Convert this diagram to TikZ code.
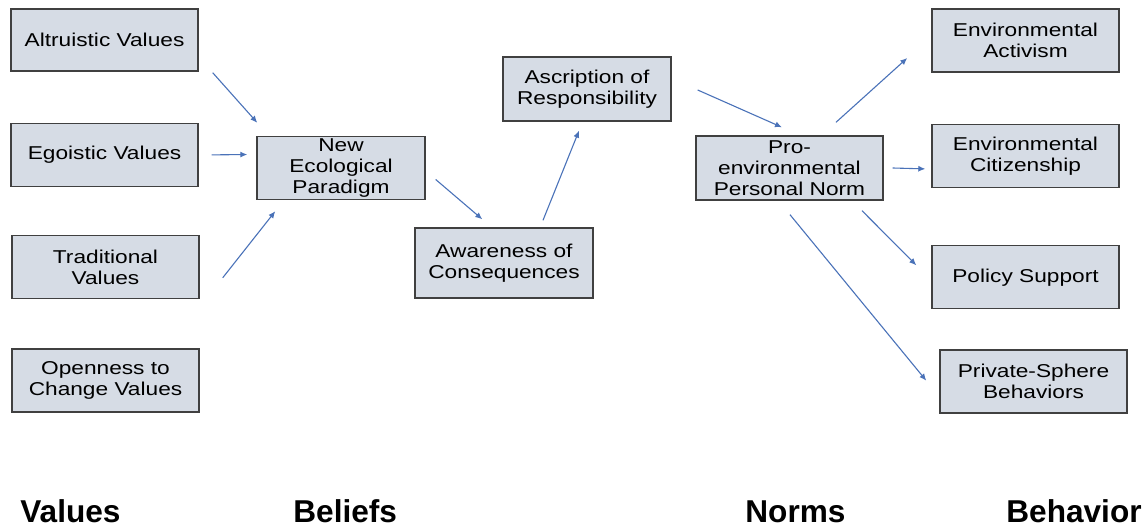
\documentclass[tikz,border=0pt]{standalone}
\usepackage{fontspec}
\newfontfamily\boxfont{Liberation Sans}[FakeStretch=1.22]
\newfontfamily\headfont{Liberation Sans}
\usetikzlibrary{arrows.meta, positioning}
\definecolor{vbnfill}{HTML}{D6DCE5}
\definecolor{vbnline}{HTML}{404040}
\definecolor{vbnarrow}{HTML}{4A72B8}

\begin{document}
\begin{tikzpicture}[
    x=0.5pt, y=-0.5pt,
    box/.style={draw=vbnline, fill=vbnfill, line width=0.7pt, align=center,
                inner sep=0pt, minimum width=93.5pt, minimum height=31.5pt,
                font=\boxfont\fontsize{9.3}{10.5}\selectfont},
    arr/.style={-{Latex[length=3.5pt, width=3pt]}, vbnarrow, line width=0.55pt},
    stage/.style={anchor=base west, inner sep=0pt,
                  font=\headfont\bfseries\fontsize{15.8}{18}\selectfont},
  ]
    \useasboundingbox (0,0) rectangle (1148,529);

    % values
    \node[box, minimum height=31pt] (alt) at (104.5,40) {Altruistic Values};
    \node[box, below=25.5pt of alt] (ego) {Egoistic Values};
    \node[box, below=24pt of ego, xshift=0.5pt] (trad) {Traditional\\Values};
    \node[box, below=24.5pt of trad] (open) {Openness to\\Change Values};

    % beliefs
    \node[box, minimum width=84pt] (nep) at (341,168) {New\\Ecological\\Paradigm};
    \node[box, minimum width=89pt, minimum height=35pt] (aoc) at (504,263) {Awareness of\\Consequences};
    \node[box, minimum width=84pt, minimum height=32pt] (aor) at (587,89) {Ascription of\\Responsibility};

    % norms
    \node[box, minimum height=32pt] (pen) at (789.5,168) {Pro-\\environmental\\Personal Norm};

    % behavior
    \node[box] (act) at (1025.5,40.5) {Environmental\\Activism};
    \node[box, below=25.5pt of act] (cit) {Environmental\\Citizenship};
    \node[box, below=28.5pt of cit] (pol) {Policy Support};
    \node[box, below=20pt of pol, xshift=4pt] (priv) {Private-Sphere\\Behaviors};

    \draw[arr] ([shift={(14,1)}]alt.south east) -- ([shift={(1,-13)}]nep.north west);
    \draw[arr] ([shift={(13,0)}]ego.east) -- ([shift={(-9,-13.5)}]nep.west);
    \draw[arr] ([shift={(23,10.5)}]trad.east) -- ([shift={(19,11)}]nep.south west);
    \draw[arr] ([shift={(10,11.5)}]nep.east) -- ([shift={(68,-8)}]aoc.north west);
    \draw[arr] ([shift={(39,-7)}]aoc.north) -- ([shift={(-8,9)}]aor.south);
    \draw[arr] ([shift={(26,1)}]aor.east) -- ([shift={(-7.5,-8)}]pen.north);
    \draw[arr] ([shift={(46.5,-13)}]pen.north) -- ([shift={(-24,17.5)}]act.west);
    \draw[arr] ([shift={(9,0)}]pen.east) -- ([shift={(-6,13)}]cit.west);
    \draw[arr] ([shift={(72.5,10)}]pen.south) -- ([shift={(-15,-12)}]pol.west);
    \draw[arr] ([shift={(0.5,14)}]pen.south) -- ([shift={(-13,-1)}]priv.west);

    % column headings
    \node[stage] (hval) at (20,523) {Values};
    \node[stage] (hbel) at (293,523) {Beliefs};
    \node[stage] (hnor) at (745,523) {Norms};
    \node[stage] (hbeh) at (1006,523) {Behavior};
\end{tikzpicture}
\end{document}
